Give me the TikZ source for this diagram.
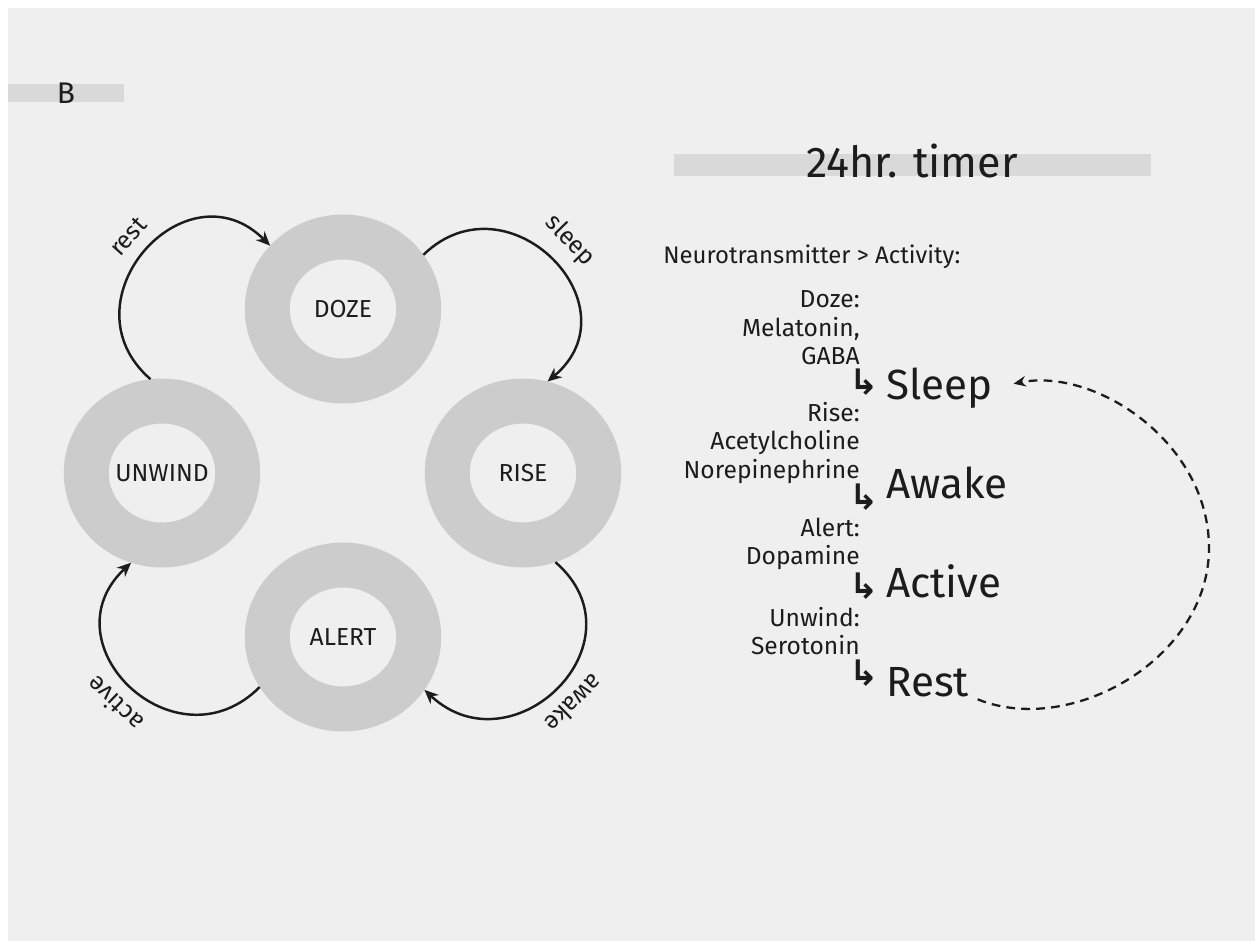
\documentclass[tikz,border=0pt]{standalone}
\usepackage{fontspec}
\setmainfont{Fira Sans}
\newfontfamily\symfont{DejaVu Sans}
\usetikzlibrary{arrows.meta,positioning,shapes.geometric}
\definecolor{bg}{HTML}{EFEFEF}
\definecolor{ringgray}{HTML}{CCCCCC}
\definecolor{bargray}{HTML}{D9D9D9}
\definecolor{ink}{HTML}{1C1C1C}

\begin{document}
\begin{tikzpicture}[x=0.02cm,y=-0.02cm,
  every node/.style={text=ink},%
  rg/.style={ellipse,draw=ringgray,line width=0.9cm,fill=bg,minimum width=3.03cm,%
    minimum height=2.88cm,inner sep=0pt,font=\fontsize{14}{16}\selectfont},%
  e/.style={-{Stealth[length=8pt,width=7pt]},line width=1.4pt,draw=ink,looseness=1.7},%
  lb/.style={midway,sloped,above=4pt,allow upside down,font=\fontsize{14}{16}\selectfont},%
  nt/.style={align=right,anchor=east,inner sep=0pt,font=\fontsize{14}{16.3}\selectfont},%
  hk/.style={inner sep=0pt,font=\symfont\bfseries\fontsize{20}{20}\selectfont},%
  ac/.style={anchor=base west,inner sep=0pt,font=\fontsize{24}{28}\selectfont},%
  d/.style={-{Stealth[length=7pt,width=6pt]},line width=1.3pt,%
    dash pattern=on 5pt off 3.5pt,draw=ink},%
  ]
  \useasboundingbox (0,0) rectangle (1255,941);
  \fill [white] (0,0) rectangle (1255,941);
  \fill [bg] (8,8) rectangle (1255,941);
  \fill [bargray] (8,84) rectangle (124,102);
  \fill [bargray] (674,154) rectangle (1151,176);
  \node (tag) [font=\fontsize{17}{20}\selectfont] at (66,93) {B};
  \node (ttl) [anchor=base,font=\fontsize{24.5}{28}\selectfont] at (912,177) {24hr. timer};
  % cycle
  \node (dz) [rg] at (343,309) {DOZE};
  \node (uw) [rg] at (162,473) {UNWIND};
  \node (rs) [rg] at (523,473) {RISE};
  \node (al) [rg] at (343,637) {ALERT};
  \draw [e] (uw.97) to[out=139,in=135] node [lb] {rest} (dz.139);
  \draw [e] (dz.34) to[out=44,in=40] node [lb] {sleep} (rs.75);
  \draw [e] (rs.-70) to[out=-41,in=-43] node [lb] {awake} (al.-33);
  \draw [e] (al.-149) to[out=-135,in=-137] node [lb] {active} (uw.-109);
  % timer list
  \node (ntl) [anchor=base west,inner sep=0pt,font=\fontsize{13.6}{16}\selectfont] at (663,263) {Neurotransmitter > Activity:};
  \node (g1) [nt] at (860,328) {Doze:\\Melatonin,\\GABA};
  \node (g2) [nt] at (860,443) {Rise:\\Acetylcholine\\Norepinephrine};
  \node (g3) [nt] at (860,544) {Alert:\\Dopamine};
  \node (g4) [nt] at (860,631) {Unwind:\\Serotonin};
  \node (h1) [hk] at (864,382) {↳};
  \node (h2) [hk] at (864,497) {↳};
  \node (h3) [hk] at (864,586) {↳};
  \node (h4) [hk] at (864,673) {↳};
  \node (sl) [ac] at (886,399) {Sleep};
  \node (aw) [ac] at (886,498) {Awake};
  \node (av) [ac] at (886,597) {Active};
  \node (rt) [ac] at (886,696) {Rest};
  \coordinate (lp) at (1209,548);
  \draw [d,shorten <=5pt,shorten >=12pt] (rt.base east) to[out=-22,in=-90] (lp)
    to[out=90,in=11] (sl.east);
\end{tikzpicture}
\end{document}
